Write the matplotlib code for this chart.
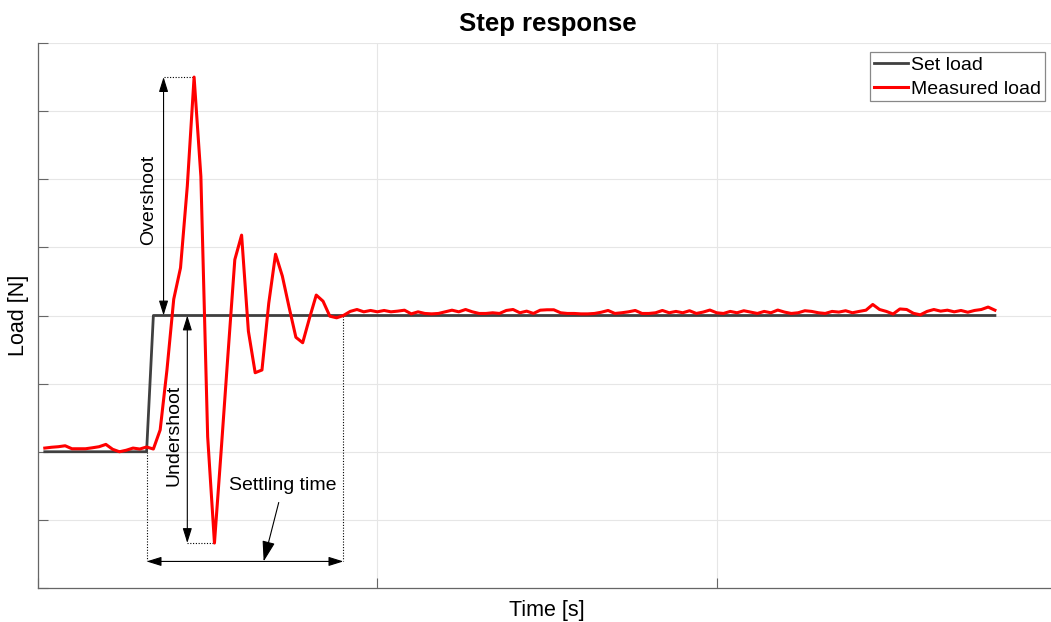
import numpy as np
import matplotlib.pyplot as plt
from matplotlib.lines import Line2D

plt.rcParams['font.family'] = ['Liberation Sans', 'DejaVu Sans']

# set load (step command)
t_set = [0.02, 0.32, 0.34, 2.82]
load_set = [0.0, 0.0, 1.0, 1.0]

# measured load, sampled every 0.02 s starting at 0.02 s
dt = 0.02
load_meas = [
    0.027, 0.033, 0.037, 0.044, 0.022, 0.022, 0.022, 0.029, 0.037, 0.054,
    0.018, 0.000, 0.011, 0.027, 0.020, 0.035, 0.020, 0.160, 0.600, 1.120,
    1.350, 1.950, 2.750, 2.020, 0.110, -0.670, 0.015, 0.720, 1.410, 1.590,
    0.885, 0.580, 0.600, 1.090, 1.450, 1.290, 1.060, 0.840, 0.800, 0.980,
    1.150, 1.105, 0.995, 0.983, 1.000, 1.030, 1.044, 1.027, 1.037, 1.027,
    1.037, 1.027, 1.032, 1.039, 1.012, 1.027, 1.015, 1.012, 1.015, 1.027,
    1.039, 1.027, 1.044, 1.027, 1.015, 1.015, 1.020, 1.015, 1.037, 1.044,
    1.020, 1.032, 1.015, 1.039, 1.042, 1.042, 1.020, 1.015, 1.015, 1.012,
    1.012, 1.015, 1.024, 1.037, 1.015, 1.020, 1.027, 1.037, 1.015, 1.015,
    1.020, 1.037, 1.020, 1.030, 1.020, 1.035, 1.015, 1.025, 1.040, 1.020,
    1.015, 1.030, 1.020, 1.035, 1.025, 1.015, 1.030, 1.020, 1.040, 1.025,
    1.015, 1.020, 1.035, 1.030, 1.020, 1.015, 1.030, 1.025, 1.035, 1.020,
    1.030, 1.039, 1.081, 1.044, 1.030, 1.011, 1.048, 1.044, 1.016, 1.005,
    1.030, 1.044, 1.032, 1.039, 1.027, 1.037, 1.024, 1.037, 1.044, 1.062,
    1.039,
]
t_meas = dt * np.arange(1, len(load_meas) + 1)

# annotation positions
t_os_arrow = 0.37
t_us_arrow = 0.44
t_settle_start = 0.32
t_settle_end = 0.90
y_settle = -0.805

fig = plt.figure(figsize=(10.51, 6.22), dpi=100)
ax = fig.add_axes([38 / 1051, 34 / 622, 1018 / 1051, 545 / 622])

ax.plot(t_set, load_set, color='#404040', lw=2.0, label='Set load', zorder=3)
ax.plot(t_meas, load_meas, color='red', lw=2.2, label='Measured load', zorder=4)

ax.set_xlim(0, 3)
ax.set_ylim(-1, 3)
ax.set_xticks([0, 1, 2, 3])
ax.set_yticks(np.arange(-1, 3.01, 0.5))
ax.tick_params(direction='in', length=7, width=0.8, colors='#666666',
               labelleft=False, labelbottom=False)
ax.grid(True, color='#e6e6e6', lw=0.8)
ax.set_axisbelow(True)
for side in ['top', 'right']:
    ax.spines[side].set_visible(False)
for side in ['left', 'bottom']:
    ax.spines[side].set_color('#666666')
    ax.spines[side].set_linewidth(0.9)

i_peak = int(np.argmax(load_meas))
i_low = int(np.argmin(load_meas))
peak = load_meas[i_peak]
low = load_meas[i_low]

head = 'head_length=0.9,head_width=0.28'
arrow_kw = dict(arrowstyle='<|-|>,' + head, color='black', lw=0.8,
                shrinkA=0, shrinkB=0)
dot_kw = dict(color='black', lw=0.8, ls=(0, (1, 1.5)))

# overshoot
ax.annotate('', xy=(t_os_arrow, peak), xytext=(t_os_arrow, 1.0), arrowprops=arrow_kw)
ax.plot([t_os_arrow, t_meas[i_peak]], [peak, peak], **dot_kw)
ax.text(t_os_arrow - 0.043, 1.85, 'Overshoot', rotation=90, ha='center', va='center',
        fontsize=14)

# undershoot
ax.annotate('', xy=(t_us_arrow, low), xytext=(t_us_arrow, 1.0), arrowprops=arrow_kw)
ax.plot([t_us_arrow, t_meas[i_low]], [low, low], **dot_kw)
ax.text(t_us_arrow - 0.038, 0.12, 'Undershoot', rotation=90, ha='center', va='center',
        fontsize=14)

# settling time
ax.annotate('', xy=(t_settle_end, y_settle), xytext=(t_settle_start, y_settle),
            arrowprops=arrow_kw)
ax.plot([t_settle_start, t_settle_start], [0.0, y_settle], **dot_kw)
ax.plot([t_settle_end, t_settle_end], [1.0, y_settle], **dot_kw)
ax.annotate('Settling time', xy=(0.665, y_settle), xytext=(0.722, -0.25),
            ha='center', va='center', fontsize=14,
            arrowprops=dict(arrowstyle='-|>,' + head, color='black', lw=0.8,
                            shrinkA=4, shrinkB=0))

fig.text(548 / 1051, 1 - 31 / 622, 'Step response', ha='center', va='baseline',
         fontsize=18.5, fontweight='bold')
ax.set_xlabel('Time [s]', fontsize=15.5)
ax.xaxis.set_label_coords(509 / 1018, -12 / 545)
ax.set_ylabel('Load [N]', fontsize=15.5)
ax.yaxis.set_label_coords(-9 / 1018, 0.5)

handles = [Line2D([], [], color='#404040', lw=2.0),
           Line2D([], [], color='red', lw=2.2)]
leg = ax.legend(handles, ['Set load', 'Measured load'], loc='upper right',
                bbox_to_anchor=(1045 / 1051, 1 - 52 / 622),
                bbox_transform=fig.transFigure, fontsize=14, frameon=True,
                fancybox=False, framealpha=1, edgecolor='#888888',
                borderpad=0.2, labelspacing=0.33, handletextpad=0.15,
                handlelength=1.75, borderaxespad=0)
leg.get_frame().set_linewidth(0.9)

fig.savefig('out.png', dpi=100)
